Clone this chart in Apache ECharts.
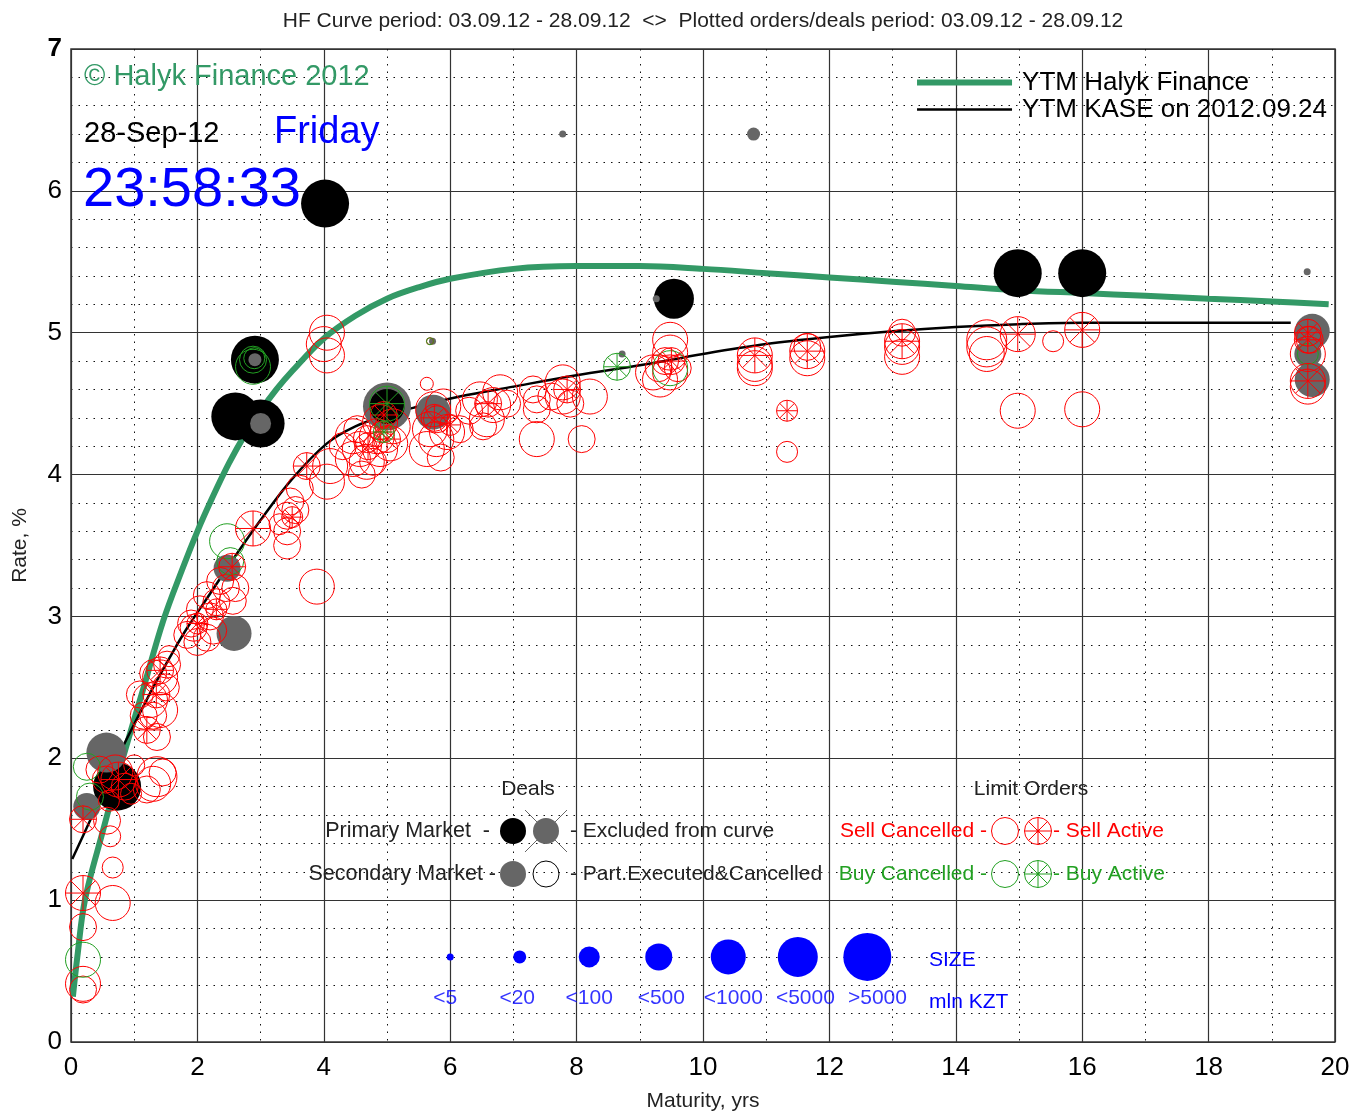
<!DOCTYPE html>
<html>
<head>
<meta charset="utf-8">
<title>HF Curve</title>
<script src="https://cdn.jsdelivr.net/npm/echarts@6/dist/echarts.min.js"></script>
<style>
  html, body { margin: 0; padding: 0; background: #fff; }
  #chart { width: 1354px; height: 1117px; }
</style>
</head>
<body>
<div id="chart"></div>
<script>
// yield curves: [maturity (yrs), rate (%)]
var hfCurve = [
  [0.03, 0.32], [0.1, 0.6], [0.22, 1.0], [0.5, 1.48], [0.82, 2.0], [1.15, 2.5],
  [1.46, 2.97], [1.75, 3.32], [2.0, 3.6], [2.25, 3.85], [2.5, 4.08], [2.75, 4.28],
  [3.0, 4.45], [3.25, 4.6], [3.5, 4.73], [4.0, 4.96], [4.5, 5.12], [5.0, 5.24],
  [5.5, 5.32], [6.0, 5.38], [7.0, 5.45], [8.0, 5.47], [9.0, 5.47], [10.0, 5.45],
  [11.0, 5.42], [12.0, 5.39], [13.0, 5.36], [14.0, 5.33], [15.0, 5.30], [16.0, 5.28],
  [17.0, 5.26], [18.0, 5.24], [19.0, 5.22], [19.9, 5.20]
];
var kaseCurve = [
  [0.02, 1.29], [0.3, 1.56], [0.6, 1.86], [0.82, 2.08], [1.0, 2.24], [1.3, 2.5],
  [1.6, 2.74], [1.84, 2.92], [2.2, 3.16], [2.56, 3.4], [3.0, 3.68], [3.5, 3.97],
  [4.05, 4.22], [4.5, 4.34], [5.0, 4.42], [5.5, 4.48], [6.15, 4.55], [7.0, 4.62],
  [8.0, 4.7], [9.0, 4.77], [10.0, 4.85], [11.0, 4.92], [12.0, 4.97], [13.0, 5.01],
  [14.0, 5.04], [15.0, 5.06], [16.0, 5.07], [17.0, 5.07], [19.3, 5.07]
];

// deals and limit orders: [maturity, rate, volume class 1..7]
var primaryDeals = [
  [4.02, 5.91, 7], [2.91, 4.81, 7], [2.6, 4.41, 7], [3.0, 4.36, 7], [5.0, 4.48, 5],
  [9.54, 5.24, 6], [14.98, 5.42, 7], [16.0, 5.42, 7], [0.73, 1.8, 7]
];
var excludedDeals = [
  [5.0, 4.48, 7]
];
var secondaryDeals = [
  [7.78, 6.40, 1], [10.8, 6.40, 2], [19.56, 5.43, 1], [9.26, 5.24, 1], [5.72, 4.94, 1],
  [8.72, 4.85, 1], [2.58, 2.88, 5], [0.56, 2.04, 6], [0.25, 1.66, 4], [2.47, 3.34, 4],
  [3.0, 4.36, 3], [5.73, 4.44, 5], [19.64, 5.01, 5], [19.57, 4.85, 4], [19.64, 4.67, 5],
  [2.91, 4.81, 2]
];
var sellCancelled = [
  [0.19, 0.41, 5], [0.19, 0.37, 4], [0.19, 0.81, 4], [0.66, 0.98, 5], [0.66, 1.23, 3],
  [0.62, 1.45, 3], [0.57, 1.56, 4], [0.45, 1.92, 4], [0.55, 1.85, 4], [0.7, 1.9, 5],
  [0.85, 1.8, 4], [0.95, 1.75, 3], [0.6, 1.7, 3], [1.0, 1.95, 3], [1.36, 1.87, 6],
  [1.3, 1.82, 5], [1.2, 1.78, 4], [1.45, 1.9, 4], [1.36, 2.15, 4], [1.41, 2.34, 5],
  [1.25, 2.41, 5], [1.09, 2.45, 4], [1.41, 2.57, 5], [1.52, 2.66, 4], [1.3, 2.3, 4],
  [1.15, 2.3, 4], [1.5, 2.5, 4], [1.3, 2.6, 4], [1.55, 2.72, 3], [1.84, 2.87, 4],
  [2.0, 2.82, 4], [2.15, 2.85, 4], [1.94, 2.92, 4], [2.04, 3.05, 4], [2.2, 3.0, 4],
  [2.36, 3.25, 4], [2.56, 3.11, 4], [2.15, 3.15, 4], [2.3, 3.1, 4], [2.45, 3.2, 4],
  [2.6, 3.2, 4], [1.9, 2.95, 4], [2.25, 2.9, 4], [3.42, 3.6, 4], [3.42, 3.71, 4],
  [3.47, 3.81, 4], [3.62, 3.9, 4], [3.42, 3.5, 4], [4.05, 3.95, 5], [4.1, 4.06, 5],
  [3.55, 3.75, 4], [3.3, 3.65, 3], [3.89, 3.21, 5], [4.05, 5.0, 5], [4.05, 4.84, 5],
  [4.0, 4.92, 5], [5.63, 4.64, 2], [5.68, 4.94, 1], [4.46, 4.27, 5], [4.57, 4.18, 5],
  [4.68, 4.09, 5], [4.89, 4.37, 5], [4.84, 4.27, 5], [5.09, 4.34, 5], [4.89, 4.18, 5],
  [4.46, 4.11, 5], [4.53, 4.32, 4], [4.68, 4.25, 4], [4.78, 4.09, 4], [5.05, 4.22, 5],
  [4.6, 4.0, 4], [4.3, 4.2, 4], [5.73, 4.46, 5], [5.68, 4.32, 5], [5.63, 4.18, 5],
  [5.89, 4.48, 5], [5.78, 4.25, 5], [5.79, 4.39, 4], [5.95, 4.3, 5], [6.15, 4.32, 4],
  [5.85, 4.12, 4], [6.47, 4.53, 5], [6.68, 4.49, 5], [6.58, 4.39, 5], [6.79, 4.58, 5],
  [6.52, 4.34, 4], [6.9, 4.5, 4], [6.3, 4.45, 4], [7.37, 4.53, 4], [7.37, 4.46, 4],
  [7.31, 4.6, 4], [7.37, 4.25, 5], [7.78, 4.65, 5], [7.78, 4.55, 5], [8.21, 4.55, 5],
  [8.08, 4.25, 4], [7.6, 4.55, 4], [7.9, 4.5, 4], [9.21, 4.72, 5], [9.48, 4.72, 5],
  [9.48, 4.95, 5], [9.48, 4.86, 5], [9.32, 4.67, 5], [9.4, 4.8, 4], [9.6, 4.75, 4],
  [9.3, 4.75, 4], [10.82, 4.78, 5], [10.82, 4.75, 5], [11.65, 4.82, 5], [11.65, 4.9, 4],
  [11.33, 4.16, 3], [13.15, 4.9, 5], [13.15, 4.83, 5], [13.15, 5.0, 4], [14.49, 4.95, 6],
  [14.49, 4.9, 6], [14.49, 4.85, 5], [14.98, 4.45, 5], [15.54, 4.94, 3], [16.0, 4.46, 5],
  [19.57, 4.85, 5], [19.57, 4.62, 5], [19.6, 4.95, 4]
];
var sellActive = [
  [0.19, 1.05, 5], [0.19, 1.57, 4], [0.75, 1.85, 5], [1.41, 2.62, 4], [1.2, 2.2, 4],
  [1.35, 2.45, 4], [2.0, 2.95, 3], [2.3, 3.05, 3], [2.55, 3.35, 4], [2.88, 3.62, 5],
  [3.73, 4.06, 4], [3.5, 3.7, 3], [4.7, 4.2, 4], [4.9, 4.3, 3], [5.75, 4.4, 4],
  [6.6, 4.5, 4], [7.85, 4.6, 4], [9.5, 4.8, 4], [10.82, 4.84, 5], [11.65, 4.87, 5],
  [11.33, 4.45, 3], [13.15, 4.94, 5], [14.98, 4.99, 5], [16.0, 5.02, 5], [19.57, 5.0, 4],
  [19.57, 4.95, 4], [19.57, 4.66, 5], [6.0, 4.35, 3], [5.0, 4.25, 4], [4.95, 4.42, 4]
];
var buyCancelled = [
  [0.19, 0.58, 5], [0.25, 1.94, 4], [0.3, 1.73, 4], [2.47, 3.53, 5], [2.52, 3.39, 4],
  [2.88, 4.81, 4], [2.88, 4.76, 5], [9.48, 4.75, 5], [19.57, 4.85, 3], [5.68, 4.94, 1],
  [2.9, 4.82, 3]
];
var buyActive = [
  [5.0, 4.5, 5], [8.64, 4.76, 4], [4.95, 4.3, 3]
];

var sizeLabels = ['<5', '<20', '<100', '<500', '<1000', '<5000', '>5000'];
var titleText = 'HF Curve period: 03.09.12 - 28.09.12  <>  Plotted orders/deals period: 03.09.12 - 28.09.12';

// styling
var FONT = 'Liberation Sans, Arial, sans-serif';
var SYMBOL_PX = [7, 13, 21, 27, 35, 40, 48];
var HF_GREEN = '#339966';
var RED = '#ff0000';
var GREEN = '#22a022';
var GRAY = '#666666';
var BLUE = '#0000ff';
var STAR = 'path://M50,0A50,50,0,1,1,50,100A50,50,0,1,1,50,0ZM50,0L50,100M0,50L100,50M14.6,14.6L85.4,85.4M14.6,85.4L85.4,14.6';

function sizeOf(v) { return SYMBOL_PX[v[2] - 1]; }

function scatter(name, data, symbol, fill, stroke, z) {
  return {
    name: name, type: 'scatter', data: data, symbol: symbol, symbolSize: sizeOf,
    silent: true, z: z,
    itemStyle: { color: fill, borderColor: stroke, borderWidth: stroke ? 1 : 0, opacity: 1 }
  };
}

// size legend (drawn in data space, like the original plot)
var sizeLegend = sizeLabels.map(function (l, i) { return [6 + 1.1 * i, 0.6, i + 1]; });
var sizeLegendText = sizeLabels.map(function (l, i) { return [5.92 + 1.14 * i, 0.31, l]; });

// annotation helpers
function txt(x, y, s, size, color, align) {
  return { type: 'text', x: x, y: y, z: 100, silent: true,
    style: { text: s, fontSize: size, fontFamily: FONT, fill: color, align: align || 'left', verticalAlign: 'middle' } };
}
function dot(cx, cy, r, fill, stroke) {
  return { type: 'circle', z: 100, silent: true, shape: { cx: cx, cy: cy, r: r },
    style: { fill: fill, stroke: stroke || null, lineWidth: 1 } };
}
function ln(x1, y1, x2, y2, color) {
  return { type: 'line', z: 101, silent: true, shape: { x1: x1, y1: y1, x2: x2, y2: y2 },
    style: { stroke: color, lineWidth: 1 } };
}
function star(cx, cy, r, color) {
  var d = r * 0.7071;
  return [dot(cx, cy, r, 'none', color),
    ln(cx, cy - r, cx, cy + r, color), ln(cx - r, cy, cx + r, cy, color),
    ln(cx - d, cy - d, cx + d, cy + d, color), ln(cx - d, cy + d, cx + d, cy - d, color),
    dot(cx, cy, 1.5, color)];
}

var graphics = [
  txt(703, 21, titleText, 21, '#222', 'center'),
  txt(84, 77, '\u00a9 Halyk Finance 2012', 29, HF_GREEN),
  txt(84, 134, '28-Sep-12', 29, '#000'),
  txt(274, 133, 'Friday', 38, BLUE),
  txt(83, 191, '23:58:33', 56, BLUE),
  // deals legend
  txt(528, 789, 'Deals', 21, '#222', 'center'),
  txt(490, 831, 'Primary Market  -', 21.5, '#222', 'right'),
  txt(496, 874, 'Secondary Market -', 21.5, '#222', 'right'),
  txt(570, 831, '- Excluded from curve', 21, '#222'),
  txt(570, 874, '- Part.Executed&Cancelled', 21, '#222'),
  dot(513, 831, 13, '#000'),
  dot(546, 831, 13, GRAY),
  ln(525, 810, 567, 852, GRAY), ln(525, 852, 567, 810, GRAY),
  dot(513, 874, 13, GRAY),
  dot(546, 874, 13, 'none', '#000'),
  // limit orders legend
  txt(1031, 789, 'Limit Orders', 21, '#222', 'center'),
  txt(987, 831, 'Sell Cancelled -', 21, RED, 'right'),
  txt(987, 874, 'Buy Cancelled -', 21, GREEN, 'right'),
  txt(1053, 831, '- Sell Active', 21, RED),
  txt(1053, 874, '- Buy Active', 21, GREEN),
  dot(1005, 831, 13.5, 'none', RED),
  dot(1005, 874, 13.5, 'none', GREEN)
].concat(star(1038, 831, 13.5, RED), star(1038, 874, 13.5, GREEN), [
  txt(929, 960, 'SIZE', 21, BLUE),
  txt(929, 1002, 'mln KZT', 21, BLUE)
]);

var chart = echarts.init(document.getElementById('chart'));
chart.setOption({
  animation: false,
  backgroundColor: '#fff',
  textStyle: { fontFamily: FONT },
  grid: { left: 71, right: 19, top: 49, bottom: 71, show: true, borderColor: '#333', borderWidth: 1.5 },
  legend: {
    data: ['YTM Halyk Finance', 'YTM KASE on 2012.09.24'],
    orient: 'vertical', right: 27, top: 69, padding: 0,
    itemWidth: 95, itemHeight: 10, itemGap: 0, selectedMode: false,
    itemStyle: { opacity: 0 },
    lineStyle: { width: 'inherit' },
    textStyle: { fontSize: 26, lineHeight: 27, color: '#000', fontFamily: FONT, padding: [0, 0, 0, 5] }
  },
  xAxis: {
    type: 'value', min: 0, max: 20, interval: 2,
    name: 'Maturity, yrs', nameLocation: 'middle', nameGap: 49,
    nameTextStyle: { fontSize: 21, color: '#222', fontFamily: FONT },
    axisLine: { show: false }, axisTick: { show: false },
    axisLabel: { fontSize: 26, color: '#000', margin: 13, fontFamily: FONT },
    splitLine: { lineStyle: { color: '#333', width: 1.2 } },
    minorTick: { show: false, splitNumber: 2 },
    minorSplitLine: { show: true, lineStyle: { color: '#111', width: 1, type: [1.5, 6] } }
  },
  yAxis: {
    type: 'value', min: 0, max: 7, interval: 1,
    name: 'Rate, %', nameLocation: 'middle', nameGap: 40,
    nameTextStyle: { fontSize: 21, color: '#222', fontFamily: FONT },
    axisLine: { show: false }, axisTick: { show: false },
    axisLabel: {
      fontSize: 26, color: '#000', margin: 9, fontFamily: FONT,
      formatter: function (v) { return v === 7 ? '{b|7}' : String(v); },
      rich: { b: { fontSize: 26, fontWeight: 'bold', color: '#000', fontFamily: FONT } }
    },
    splitLine: { lineStyle: { color: '#333', width: 1.2 } },
    minorTick: { show: false, splitNumber: 5 },
    minorSplitLine: { show: true, lineStyle: { color: '#111', width: 1, type: [1.5, 6] } }
  },
  series: [
    { name: 'YTM Halyk Finance', type: 'line', data: hfCurve, symbol: 'none', smooth: 0.35,
      silent: true, z: 2, lineStyle: { color: HF_GREEN, width: 6 }, itemStyle: { color: HF_GREEN } },
    { name: 'YTM KASE on 2012.09.24', type: 'line', data: kaseCurve, symbol: 'none', smooth: 0.35,
      silent: true, z: 2, lineStyle: { color: '#000', width: 2.5 }, itemStyle: { color: '#000' } },
    scatter('Excluded from curve', excludedDeals, 'circle', GRAY, null, 3),
    scatter('Primary Market', primaryDeals, 'circle', '#000', null, 4),
    scatter('Secondary Market', secondaryDeals, 'circle', GRAY, null, 5),
    scatter('Sell Cancelled', sellCancelled, 'circle', 'rgba(0,0,0,0)', RED, 6),
    scatter('Buy Cancelled', buyCancelled, 'circle', 'rgba(0,0,0,0)', GREEN, 6),
    scatter('Sell Active', sellActive, STAR, 'rgba(0,0,0,0)', RED, 7),
    scatter('Buy Active', buyActive, STAR, 'rgba(0,0,0,0)', GREEN, 7),
    scatter('SIZE', sizeLegend, 'circle', BLUE, null, 5),
    { name: 'size labels', type: 'scatter', data: sizeLegendText, symbolSize: 1, silent: true, z: 5,
      itemStyle: { color: 'rgba(0,0,0,0)' },
      label: { show: true, position: 'inside', fontSize: 21, color: BLUE, fontFamily: FONT,
        formatter: function (p) { return p.value[2]; } } }
  ],
  graphic: graphics
});
</script>
</body>
</html>
